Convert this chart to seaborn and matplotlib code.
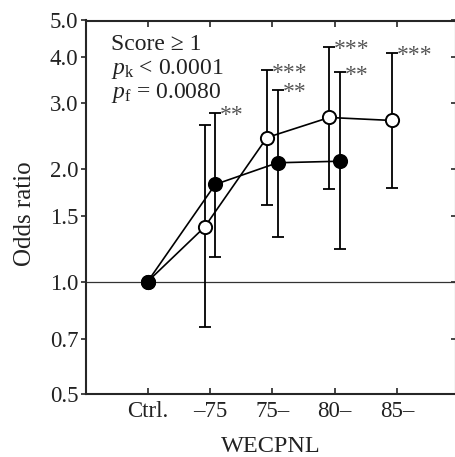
import numpy as np
import pandas as pd
import matplotlib
matplotlib.use("Agg")
import matplotlib.pyplot as plt
import matplotlib.ticker as mticker
import seaborn as sns

# ---- data ----
categories = ["Ctrl.", "\u201375", "75\u2013", "80\u2013", "85\u2013"]

open_or = [1.0, 1.40, 2.43, 2.75, 2.70]
open_lo = [1.0, 0.755, 1.60, 1.77, 1.78]
open_hi = [1.0, 2.63, 3.68, 4.25, 4.10]
open_sig = ["", "", "***", "***", "***"]

filled_or = [1.0, 1.82, 2.08, 2.10]
filled_lo = [1.0, 1.165, 1.32, 1.22]
filled_hi = [1.0, 2.83, 3.26, 3.63]
filled_sig = ["", "**", "**", "**"]

yticks = [0.5, 0.7, 1.0, 1.5, 2.0, 3.0, 4.0, 5.0]
stats_lines = ["Score \u2265 1", r"$p_{\mathrm{k}}$ < 0.0001", r"$p_{\mathrm{f}}$ = 0.0080"]

# ---- style ----
sns.set_theme(style="ticks")
plt.rcParams["font.family"] = ["Liberation Serif", "DejaVu Serif"]
plt.rcParams["mathtext.fontset"] = "custom"
plt.rcParams["mathtext.rm"] = "Liberation Serif"
plt.rcParams["mathtext.it"] = "Liberation Serif:italic"

fig = plt.figure(figsize=(4.55, 4.57), dpi=100)
ax = fig.add_axes([86 / 455, 63 / 457, 370 / 455, 373.5 / 457])

off = 0.085


def positions(n, sign):
    return [i + (sign * off if i > 0 else 0.0) for i in range(n)]


series = [
    ("open", open_or, open_lo, open_hi, open_sig, -1, "white"),
    ("filled", filled_or, filled_lo, filled_hi, filled_sig, 1, "black"),
]

ax.axhline(1.0, color="#333333", lw=0.9, zorder=1)

for name, vals, lo, hi, sig, sign, face in series:
    xs = positions(len(vals), sign)
    vals_a = np.array(vals)
    err = np.vstack([vals_a - np.array(lo), np.array(hi) - vals_a])
    ax.errorbar(xs, vals, yerr=err, fmt="none", ecolor="black",
                elinewidth=1.3, capsize=4, capthick=1.3, zorder=2)
    df = pd.DataFrame({"x": xs, "y": vals})
    sns.lineplot(data=df, x="x", y="y", ax=ax, color="black", lw=1.2,
                 marker="o", markersize=9.5, markerfacecolor=face,
                 markeredgecolor="black", markeredgewidth=1.4,
                 sort=False, zorder=3)
    for x, h, s in zip(xs, hi, sig):
        if s:
            ax.annotate(s, (x, h), xytext=(3.5, -6), textcoords="offset points",
                        ha="left", va="baseline", fontsize=17, color="#555555")

ax.set_yscale("log")
ax.set_ylim(0.5, 5.0)
ax.set_xlim(-0.99, 4.95)
ax.yaxis.set_major_locator(mticker.FixedLocator(yticks))
ax.yaxis.set_major_formatter(mticker.FixedFormatter([f"{v:.1f}" for v in yticks]))
ax.yaxis.set_minor_locator(mticker.NullLocator())
ax.set_xticks(range(len(categories)))
ax.set_xticklabels(categories)

for sp in ax.spines.values():
    sp.set_linewidth(1.5)
    sp.set_visible(True)

ax.tick_params(axis="y", which="major", direction="out", length=3.5, width=1.2,
               labelsize=16.5, pad=2, right=True, labelcolor="#222222")
ax.tick_params(axis="x", which="major", direction="in", length=4, width=1.2,
               labelsize=16.5, pad=5, top=True, labelcolor="#222222")
# right ticks point inward
for t in ax.yaxis.get_major_ticks():
    t.tick2line.set_marker(matplotlib.lines.TICKLEFT)

ax.set_xlabel("WECPNL", fontsize=17.5, labelpad=10, color="#222222")
ax.set_ylabel("Odds ratio", fontsize=18, color="#222222")
ax.yaxis.set_label_coords(-0.135, 0.483)

for i, line in enumerate(stats_lines):
    ax.text(25 / 370, (344 - 24 * i) / 373.5, line, transform=ax.transAxes,
            fontsize=17, ha="left", va="baseline", color="#222222")

fig.savefig("out.png", dpi=100)
